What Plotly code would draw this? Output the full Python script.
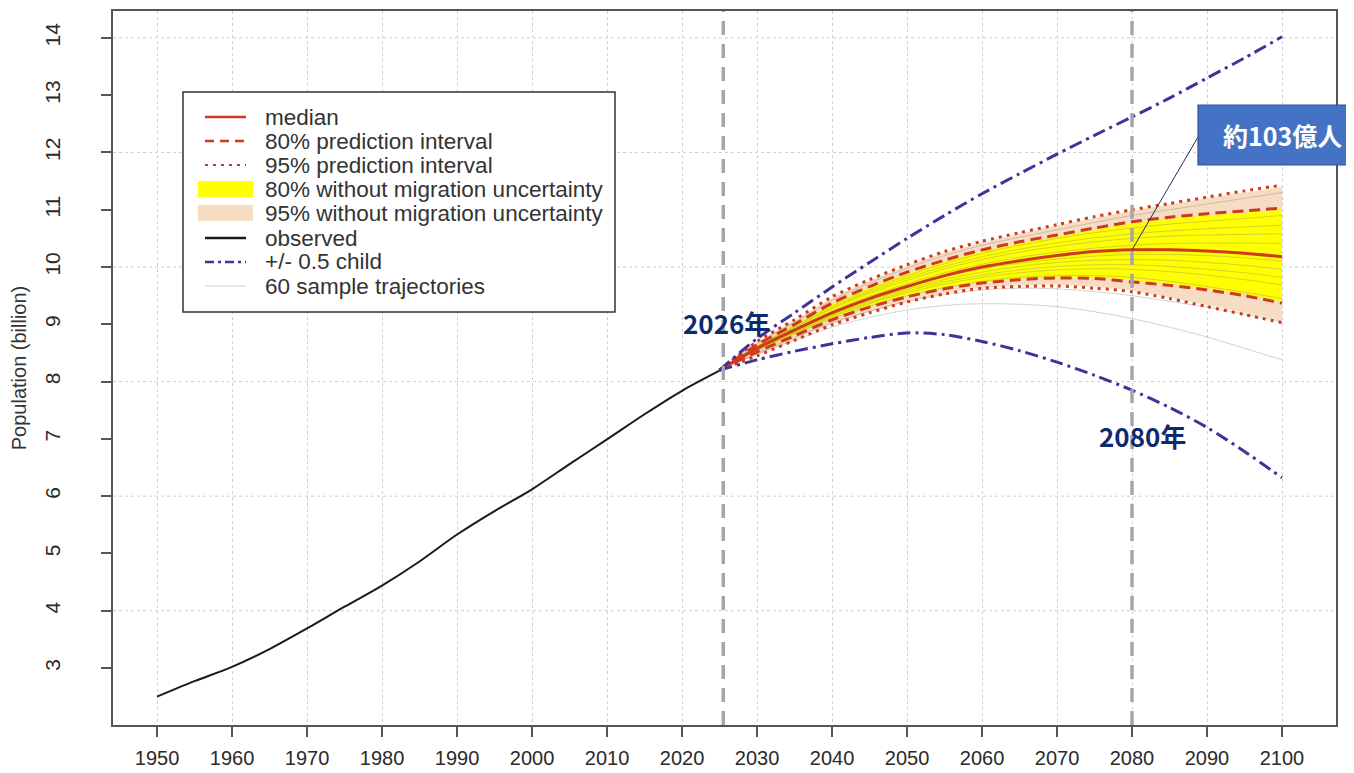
import plotly.graph_objects as go

# ---------------- data ----------------
obs_years = [1950, 1955, 1960, 1965, 1970, 1975, 1980, 1985, 1990, 1995,
             2000, 2005, 2010, 2015, 2020, 2025]
obs_pop = [2.50, 2.77, 3.02, 3.33, 3.69, 4.07, 4.44, 4.86, 5.33, 5.74,
           6.12, 6.56, 6.99, 7.43, 7.84, 8.19]

proj_years = [2025, 2030, 2035, 2040, 2045, 2050, 2055, 2060, 2065, 2070,
              2075, 2080, 2085, 2090, 2095, 2100]
median = [8.20, 8.58, 8.90, 9.20, 9.45, 9.66, 9.85, 10.00, 10.11, 10.20,
          10.27, 10.30, 10.30, 10.28, 10.24, 10.18]
pi80_upper = [8.20, 8.64, 9.00, 9.37, 9.66, 9.91, 10.12, 10.30, 10.44, 10.56,
              10.68, 10.79, 10.87, 10.93, 10.98, 11.03]
pi80_lower = [8.20, 8.52, 8.80, 9.08, 9.30, 9.48, 9.62, 9.72, 9.78, 9.81,
              9.80, 9.74, 9.68, 9.60, 9.50, 9.37]
pi95_upper = [8.20, 8.70, 9.08, 9.48, 9.78, 10.04, 10.27, 10.45, 10.60, 10.74,
              10.88, 11.00, 11.11, 11.22, 11.33, 11.43]
pi95_lower = [8.20, 8.45, 8.72, 8.99, 9.20, 9.39, 9.53, 9.63, 9.66, 9.67,
              9.63, 9.57, 9.45, 9.31, 9.17, 9.03]
nomig80_upper = [8.20, 8.63, 8.99, 9.35, 9.64, 9.88, 10.09, 10.27, 10.41, 10.53,
                 10.65, 10.76, 10.84, 10.90, 10.95, 11.00]
nomig80_lower = [8.20, 8.53, 8.81, 9.10, 9.32, 9.50, 9.64, 9.74, 9.80, 9.83,
                 9.82, 9.77, 9.71, 9.63, 9.53, 9.40]
nomig95_upper = [8.20, 8.69, 9.07, 9.46, 9.76, 10.02, 10.25, 10.43, 10.58, 10.72,
                 10.86, 10.98, 11.09, 11.20, 11.30, 11.40]
nomig95_lower = [8.20, 8.46, 8.73, 9.00, 9.21, 9.40, 9.54, 9.64, 9.68, 9.69,
                 9.65, 9.59, 9.47, 9.34, 9.20, 9.06]
child_upper = [8.20, 8.75, 9.20, 9.65, 10.08, 10.50, 10.90, 11.28, 11.63, 11.97,
               12.30, 12.62, 12.95, 13.30, 13.65, 14.02]
child_lower = [8.20, 8.38, 8.53, 8.66, 8.77, 8.85, 8.82, 8.70, 8.54, 8.34,
               8.11, 7.85, 7.55, 7.20, 6.78, 6.32]

traj_1 = [8.20, 8.62, 8.97, 9.32, 9.60, 9.85, 10.06, 10.24, 10.38, 10.50, 10.60, 10.68, 10.75, 10.80, 10.85, 10.90]
traj_2 = [8.20, 8.60, 8.94, 9.27, 9.54, 9.77, 9.97, 10.13, 10.26, 10.36, 10.44, 10.50, 10.54, 10.56, 10.57, 10.58]
traj_3 = [8.20, 8.59, 8.92, 9.23, 9.49, 9.71, 9.90, 10.05, 10.17, 10.26, 10.33, 10.38, 10.41, 10.42, 10.42, 10.41]
traj_4 = [8.20, 8.57, 8.88, 9.17, 9.41, 9.61, 9.78, 9.91, 10.01, 10.08, 10.12, 10.13, 10.12, 10.08, 10.03, 9.96]
traj_5 = [8.20, 8.55, 8.85, 9.13, 9.36, 9.55, 9.70, 9.82, 9.90, 9.95, 9.97, 9.96, 9.92, 9.86, 9.78, 9.69]
traj_6 = [8.20, 8.54, 8.83, 9.10, 9.32, 9.50, 9.64, 9.75, 9.82, 9.85, 9.85, 9.82, 9.75, 9.66, 9.56, 9.45]
traj_7 = [8.20, 8.66, 9.03, 9.42, 9.72, 9.98, 10.20, 10.38, 10.52, 10.65, 10.78, 10.90, 11.00, 11.10, 11.20, 11.30]
traj_8 = [8.20, 8.48, 8.72, 8.95, 9.12, 9.25, 9.33, 9.36, 9.35, 9.31, 9.22, 9.10, 8.95, 8.78, 8.58, 8.38]
traj_9 = [8.20, 8.50, 8.77, 9.03, 9.23, 9.40, 9.52, 9.60, 9.63, 9.62, 9.57, 9.50, 9.40, 9.30, 9.18, 9.05]
traj_10 = [8.20, 8.61, 8.95, 9.29, 9.57, 9.81, 10.01, 10.18, 10.31, 10.42, 10.51, 10.58, 10.63, 10.67, 10.70, 10.73]
traj_11 = [8.20, 8.58, 8.90, 9.20, 9.44, 9.65, 9.83, 9.97, 10.07, 10.14, 10.19, 10.22, 10.22, 10.20, 10.16, 10.10]
traj_12 = [8.20, 8.56, 8.86, 9.15, 9.38, 9.58, 9.74, 9.86, 9.95, 10.01, 10.04, 10.04, 10.01, 9.96, 9.90, 9.82]
sample_trajectories = [traj_1, traj_2, traj_3, traj_4, traj_5, traj_6, traj_7, traj_8,
                       traj_9, traj_10, traj_11, traj_12]

x_ticks = list(range(1950, 2101, 10))
y_ticks = list(range(3, 15))
y_grid = [4, 6, 8, 10, 12, 14]
marker_years = [2025.5, 2080]
marker_labels = ["2026年", "2080年"]
callout_text = "約103億人"

legend_labels = ["median", "80% prediction interval", "95% prediction interval",
                 "80% without migration uncertainty", "95% without migration uncertainty",
                 "observed", "+/- 0.5 child", "60 sample trajectories"]

# ---------------- geometry helpers ----------------
# page has an 8px body margin; reference pixel positions are page positions
OFF = 8
W, H = 1354 - OFF, 773 - OFF
L, R, T, B = 113 - OFF, 1336 - OFF, 11 - OFF, 725 - OFF


def px(x):
    return (x - OFF - L) / (R - L)


def py(y):
    return (B - (y - OFF)) / (B - T)


RED = "#d03a1c"
BLUE = "#3d3399"
YELLOW = "#ffff00"
BEIGE = "#f6dcc2"
GRAY_TRAJ = "rgba(120,120,120,0.33)"

fig = go.Figure()


def band(upper, lower, color):
    fig.add_trace(go.Scatter(x=proj_years, y=lower, mode="lines",
                             line=dict(width=0, shape="spline"), hoverinfo="skip", showlegend=False))
    fig.add_trace(go.Scatter(x=proj_years, y=upper, mode="lines", fill="tonexty", fillcolor=color,
                             line=dict(width=0, shape="spline"), hoverinfo="skip", showlegend=False))


band(nomig95_upper, nomig95_lower, BEIGE)
band(nomig80_upper, nomig80_lower, YELLOW)

for tr in sample_trajectories:
    fig.add_trace(go.Scatter(x=proj_years, y=tr, mode="lines",
                             line=dict(color=GRAY_TRAJ, width=1, shape="spline"),
                             showlegend=False))


def line(y, color, width, dash, xs=proj_years):
    fig.add_trace(go.Scatter(x=xs, y=y, mode="lines",
                             line=dict(color=color, width=width, dash=dash, shape="spline", smoothing=0.8),
                             showlegend=False))


line(pi95_upper, RED, 3, "3px,5px")
line(pi95_lower, RED, 3, "3px,5px")
line(pi80_upper, RED, 3, "11px,6px")
line(pi80_lower, RED, 3, "11px,6px")
line(median, RED, 3, "solid")
line(child_upper, BLUE, 3, "13px,5px,3px,5px")
line(child_lower, BLUE, 3, "13px,5px,3px,5px")
line(obs_pop, "#1a1a1a", 2, "solid", xs=obs_years)

shapes = []
# horizontal dotted grid (even values)
for g in y_grid:
    shapes.append(dict(type="line", xref="paper", yref="y", x0=0, x1=1, y0=g, y1=g,
                       line=dict(color="#cfcfcf", width=1, dash="dot"), layer="below"))
# vertical dashed markers
for yr in marker_years:
    shapes.append(dict(type="line", xref="x", yref="paper", x0=yr, x1=yr, y0=0, y1=1,
                       line=dict(color="#a6a6a6", width=3.5, dash="14px,9px")))

# callout box and connector
i2080 = proj_years.index(2080)
shapes.append(dict(type="line", xref="x", yref="y", x0=2080, y0=median[i2080],
                   x1=2088.8, y1=12.27, line=dict(color="#1f2d5a", width=1)))
shapes.append(dict(type="rect", xref="paper", yref="paper", x0=px(1198), x1=px(1358),
                   y0=py(165), y1=py(105), fillcolor="#4472c4",
                   line=dict(color="#2f528f", width=1.2)))

# ---------- manual legend ----------
shapes.append(dict(type="rect", xref="paper", yref="paper", x0=px(183), x1=px(615),
                   y0=py(312), y1=py(92), fillcolor="white",
                   line=dict(color="#333333", width=1.5)))
row_y = [117, 141, 165, 189, 213, 238, 262, 286]
kx0, kx1 = 205, 246
key_styles = [
    ("line", RED, 2.5, "solid"),
    ("line", RED, 2.5, "9px,6px"),
    ("line", RED, 2, "3px,5px"),
    ("rect", YELLOW, 16, None),
    ("rect", BEIGE, 16, None),
    ("line", "#1a1a1a", 2.5, "solid"),
    ("line", BLUE, 2.5, "9px,4px,3px,4px"),
    ("line", "#d0d0d0", 1, "solid"),
]
annotations = []
for ry, (kind, col, w, dash), lab in zip(row_y, key_styles, legend_labels):
    if kind == "line":
        shapes.append(dict(type="line", xref="paper", yref="paper", x0=px(kx0), x1=px(kx1),
                           y0=py(ry), y1=py(ry), line=dict(color=col, width=w, dash=dash)))
    else:
        shapes.append(dict(type="rect", xref="paper", yref="paper", x0=px(kx0 - 7), x1=px(kx1 + 7),
                           y0=py(ry + w / 2), y1=py(ry - w / 2), fillcolor=col, line=dict(width=0)))
    annotations.append(dict(xref="paper", yref="paper", x=px(263), y=py(ry), text=lab,
                            showarrow=False, xanchor="left", yanchor="middle",
                            font=dict(family="Liberation Sans, Arial, sans-serif", size=22.5, color="#333333")))

# marker year labels
annotations.append(dict(xref="paper", yref="paper", x=px(726), y=py(322), text=marker_labels[0],
                        showarrow=False, xanchor="center", yanchor="middle",
                        font=dict(family="Noto Sans CJK JP", size=26, color="#0e2a6e", weight="bold")))
annotations.append(dict(xref="paper", yref="paper", x=px(1142), y=py(435), text=marker_labels[1],
                        showarrow=False, xanchor="center", yanchor="middle",
                        font=dict(family="Noto Sans CJK JP", size=26, color="#0e2a6e", weight="bold")))
annotations.append(dict(xref="paper", yref="paper", x=px(1282), y=py(135), text=callout_text,
                        showarrow=False, xanchor="center", yanchor="middle",
                        font=dict(family="Noto Sans CJK JP", size=25, color="white", weight="bold")))

axis_common = dict(showline=True, mirror=True, linecolor="#555555", linewidth=2,
                   ticks="outside", ticklen=10, tickwidth=1.5, tickcolor="#555555",
                   zeroline=False, automargin=False)

fig.update_layout(
    width=W, height=H,
    margin=dict(l=L, r=W - R, t=T, b=H - B),
    paper_bgcolor="white", plot_bgcolor="white",
    showlegend=False,
    shapes=shapes, annotations=annotations,
    xaxis=dict(range=[1944.13, 2107.2], tickvals=x_ticks,
               showgrid=True, gridcolor="#d0d0d0", griddash="dot", gridwidth=1,
               tickfont=dict(family="Liberation Sans Narrow, Arial Narrow, Liberation Sans", size=20, color="#2a2a2a"),
               ticklabelstandoff=4, **axis_common),
    yaxis=dict(range=[2.005, 14.47], tickvals=y_ticks, tickangle=-90, showgrid=False,
               tickfont=dict(family="Liberation Sans Narrow, Arial Narrow, Liberation Sans", size=21, color="#2a2a2a"),
               ticklabelstandoff=33,
               title=dict(text="Population (billion)", standoff=17,
                          font=dict(family="Liberation Sans, Arial, sans-serif", size=20, color="#333333")),
               **axis_common),
)

fig.write_html("out.html")
